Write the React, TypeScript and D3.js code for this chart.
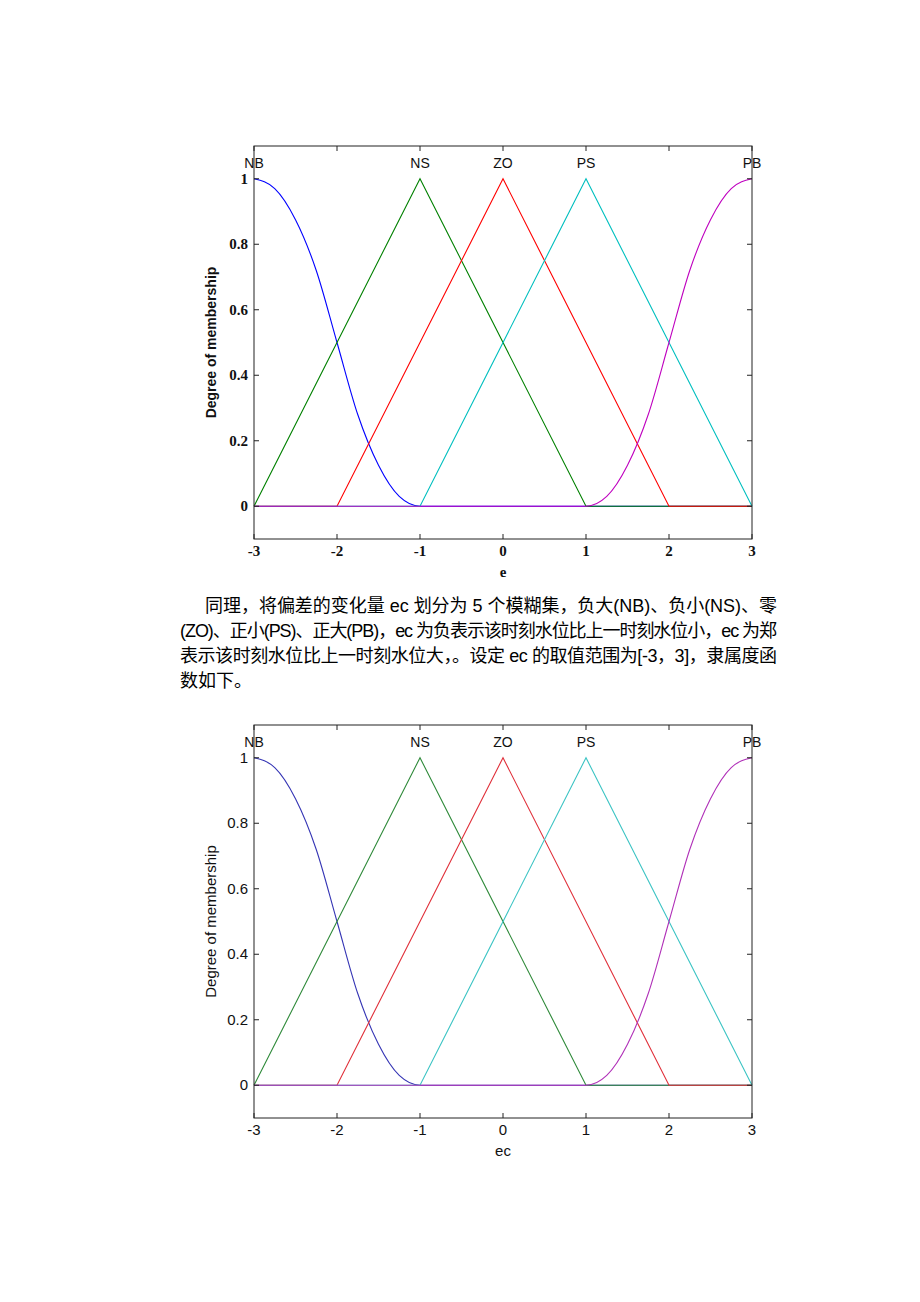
import React from "react";
import * as d3 from "d3";

// ---- data ----
const mfNames = ["NB", "NS", "ZO", "PS", "PB"];
const mfPeaks = [-3, -1, 0, 1, 3];
const nbX = [-3, -2.75, -2.5, -2.25, -2, -1.75, -1.5, -1.25, -1, 3];
const nbY = [1, 0.97, 0.875, 0.72, 0.5, 0.28, 0.125, 0.03, 0, 0];
const nsX = [-3, -1, 1, 3];
const nsY = [0, 1, 0, 0];
const zoX = [-3, -2, 0, 2, 3];
const zoY = [0, 0, 1, 0, 0];
const psX = [-3, -1, 1, 3];
const psY = [0, 0, 1, 0];
const pbX = [-3, 1, 1.25, 1.5, 1.75, 2, 2.25, 2.5, 2.75, 3];
const pbY = [0, 0, 0.03, 0.125, 0.28, 0.5, 0.72, 0.875, 0.97, 1];
const mfSmooth = [true, false, false, false, true];
const xTicks = [-3, -2, -1, 0, 1, 2, 3];
const yTicks = [0, 0.2, 0.4, 0.6, 0.8, 1];
const colors1 = ["#0000ff", "#008000", "#ff0000", "#00bfbf", "#bf00bf"];
const colors2 = ["#3434b4", "#2f8a3a", "#e0303a", "#3cc4c4", "#b030b8"];

const paraLines = [
  "同理，将偏差的变化量 ec 划分为 5 个模糊集，负大(NB)、负小(NS)、零",
  "(ZO)、正小(PS)、正大(PB)，ec 为负表示该时刻水位比上一时刻水位小，ec 为郑",
  "表示该时刻水位比上一时刻水位大，。设定 ec 的取值范围为[-3，3]，隶属度函",
  "数如下。",
];

const mfXs = [nbX, nsX, zoX, psX, pbX];
const mfYs = [nbY, nsY, zoY, psY, pbY];

type ChartProps = { top: number; bold: boolean; xLabel: string; colors: string[] };

function MFChart({ top, bold, xLabel, colors }: ChartProps) {
  const left = 254, right = 752, height = 393;
  const bottom = top + height;
  const x = d3.scaleLinear().domain([-3, 3]).range([left, right]);
  const y = d3.scaleLinear().domain([-0.1, 1.1]).range([bottom, top]);
  const tickFont = bold ? "'Liberation Serif', serif" : "'Liberation Sans', Arial, sans-serif";
  const tickWeight = bold ? 700 : 400;
  const sans = "'Liberation Sans', Arial, sans-serif";
  return (
    <g>
      {mfNames.map((name, i) => {
        const pts: [number, number][] = mfXs[i].map((v, j) => [v, mfYs[i][j]]);
        const line = d3
          .line<[number, number]>()
          .x((d) => x(d[0]))
          .y((d) => y(d[1]))
          .curve(mfSmooth[i] ? d3.curveMonotoneX : d3.curveLinear);
        return <path key={name} d={line(pts) || ""} fill="none" stroke={colors[i]} strokeWidth={1.1} />;
      })}
      <rect x={left} y={top} width={right - left} height={height} fill="none" stroke="#222" strokeWidth={1} />
      {xTicks.map((t) => (
        <g key={"x" + t}>
          <line x1={x(t)} x2={x(t)} y1={bottom} y2={bottom - 5} stroke="#222" />
          <line x1={x(t)} x2={x(t)} y1={top} y2={top + 5} stroke="#222" />
          <text x={x(t)} y={bottom + 17} textAnchor="middle" fontFamily={tickFont} fontWeight={tickWeight} fontSize={15} fill="#111">
            {t}
          </text>
        </g>
      ))}
      {yTicks.map((t) => (
        <g key={"y" + t}>
          <line x1={left} x2={left + 5} y1={y(t)} y2={y(t)} stroke="#222" />
          <line x1={right} x2={right - 5} y1={y(t)} y2={y(t)} stroke="#222" />
          <text x={left - 6} y={y(t) + 5} textAnchor="end" fontFamily={tickFont} fontWeight={tickWeight} fontSize={15} fill="#111">
            {t}
          </text>
        </g>
      ))}
      {mfNames.map((name, i) => (
        <text key={"l" + name} x={x(mfPeaks[i])} y={y(1) - 11} textAnchor="middle" fontFamily={sans} fontSize={14} fill="#111">
          {name}
        </text>
      ))}
      <text x={x(0)} y={bottom + 38} textAnchor="middle" fontFamily={tickFont} fontWeight={tickWeight} fontSize={15} fill="#111">
        {xLabel}
      </text>
      <text
        transform={`translate(${216},${(top + bottom) / 2}) rotate(-90)`}
        textAnchor="middle"
        fontFamily={sans}
        fontWeight={bold ? 700 : 400}
        fontSize={bold ? 14 : 15}
        fill="#111"
      >
        Degree of membership
      </text>
    </g>
  );
}

export default function App() {
  const paraFont = "'Liberation Sans', 'Noto Sans CJK SC', sans-serif";
  return (
    <svg
      width={920}
      height={1302}
      style={{ position: "absolute", left: 0, top: 0, background: "#fff" }}
    >
      <rect width={920} height={1302} fill="#fff" />
      <MFChart top={146} bold={true} xLabel="e" colors={colors1} />
      {paraLines.map((s, i) => {
        const x0 = i === 0 ? 205 : 180;
        const justify = i < 3;
        return (
          <text
            key={i}
            x={x0}
            y={612 + i * 25}
            fontFamily={paraFont}
            fontSize={18}
            fill="#000"
            {...(justify ? { textLength: 777 - x0, lengthAdjust: "spacing" } : {})}
          >
            {s}
          </text>
        );
      })}
      <MFChart top={725} bold={false} xLabel="ec" colors={colors2} />
    </svg>
  );
}
